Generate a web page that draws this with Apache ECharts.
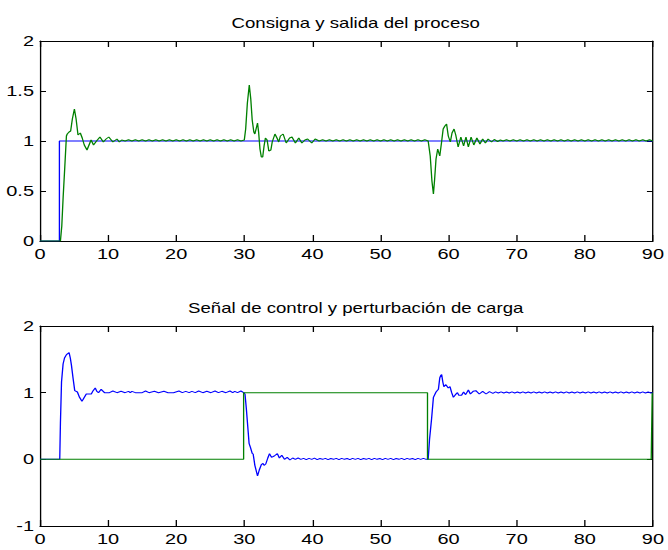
<!DOCTYPE html>
<html>
<head>
<meta charset="utf-8">
<script src="https://cdn.jsdelivr.net/npm/echarts@6/dist/echarts.min.js"></script>
<style>
  html, body { margin: 0; padding: 0; background: #fff; overflow: hidden; }
  /* The figure is drawn on a narrower canvas and widened, giving the wide glyphs of the printed figure */
  #chart { width: 502px; height: 550px; transform: scaleX(1.3307); transform-origin: 0 0; }
</style>
</head>
<body>
<div id="chart"></div>
<script>
// Time axis ticks (seconds)
const timeTicks = [0, 10, 20, 30, 40, 50, 60, 70, 80, 90];

// Top plot: setpoint and process output, [t, value]
const setpoint = [[0, 0], [2.85, 0], [2.85, 1], [90, 1]];

const processOutput = [
  [0, 0], [3.0, 0], [3.2, 0.15], [3.4, 0.44], [3.64, 0.74], [3.88, 1.05], [4.0, 1.07], [4.27, 1.09],
  [4.5, 1.1], [4.75, 1.22], [5.05, 1.32], [5.3, 1.22], [5.58, 1.06], [5.92, 1.08], [6.2, 1.03],
  [6.5, 0.96], [6.9, 0.91], [7.2, 0.96], [7.5, 1.01], [7.86, 0.96], [8.3, 1.0], [8.8, 1.04],
  [9.3, 0.99], [9.7, 1.02], [10.1, 1.04], [10.7, 0.99], [11.3, 1.02], [11.65, 0.99], [12.0, 1.01],
  [12.5, 1.0], [13.0, 1.013], [13.5, 1.0], [14.0, 1.013], [14.5, 1.0], [15.0, 1.013], [15.5, 1.0],
  [16.0, 1.013], [16.5, 1.0], [17.0, 1.013], [17.5, 1.0], [18.0, 1.013], [18.5, 1.0], [19.0, 1.013],
  [19.5, 1.0], [20.0, 1.013], [20.5, 1.0], [21.0, 1.013], [21.5, 1.0], [22.0, 1.013], [22.5, 1.0],
  [23.0, 1.013], [23.5, 1.0], [24.0, 1.013], [24.5, 1.0], [25.0, 1.013], [25.5, 1.0], [26.0, 1.013],
  [26.5, 1.0], [27.0, 1.013], [27.5, 1.0], [28.0, 1.013], [28.5, 1.0], [29.0, 1.013], [29.5, 1.0],
  [30.0, 1.01], [30.2, 1.12], [30.45, 1.38], [30.73, 1.56], [30.95, 1.42], [31.16, 1.21], [31.4, 1.09],
  [31.55, 1.07], [31.94, 1.18], [32.1, 1.09], [32.3, 0.92], [32.5, 0.84], [32.7, 0.84], [32.9, 0.95],
  [33.1, 1.03], [33.35, 1.01], [33.6, 0.9], [33.9, 0.91], [34.1, 0.99], [34.5, 1.07], [34.8, 1.03],
  [35.05, 0.99], [35.3, 1.05], [35.7, 1.07], [36.15, 0.98], [36.65, 1.03], [37.0, 1.04], [37.5, 0.98],
  [38.0, 1.03], [38.45, 0.98], [38.9, 1.01], [39.3, 1.02], [39.9, 0.98], [40.4, 1.02], [41.0, 1.0],
  [41.5, 1.013], [42.0, 1.0], [42.5, 1.013], [43.0, 1.0], [43.5, 1.013], [44.0, 1.0], [44.5, 1.013],
  [45.0, 1.0], [45.5, 1.013], [46.0, 1.0], [46.5, 1.013], [47.0, 1.0], [47.5, 1.013], [48.0, 1.0],
  [48.5, 1.013], [49.0, 1.0], [49.5, 1.013], [50.0, 1.0], [50.5, 1.013], [51.0, 1.0], [51.5, 1.013],
  [52.0, 1.0], [52.5, 1.013], [53.0, 1.0], [53.5, 1.013], [54.0, 1.0], [54.5, 1.013], [55.0, 1.0],
  [55.5, 1.013], [56.0, 1.0], [56.5, 1.013], [57.0, 1.0],
  [57.3, 0.85], [57.55, 0.6], [57.77, 0.47], [57.95, 0.62], [58.15, 0.82], [58.4, 0.92], [58.7, 0.85],
  [58.95, 0.98], [59.2, 1.12], [59.45, 1.15], [59.7, 1.17], [59.95, 1.05], [60.25, 0.99], [60.5, 1.08],
  [60.8, 1.12], [61.05, 1.06], [61.4, 0.94], [61.8, 1.04], [62.2, 0.95], [62.55, 1.04], [62.9, 0.94],
  [63.3, 1.04], [63.7, 0.96], [64.15, 1.03], [64.6, 0.97], [65.0, 1.02], [65.4, 0.98], [65.8, 1.02],
  [66.3, 0.99], [66.7, 1.015], [67.2, 0.995], [67.6, 1.01], [68.0, 1.0],
  [68.5, 1.013], [69.0, 1.0], [69.5, 1.013], [70.0, 1.0], [70.5, 1.013], [71.0, 1.0], [71.5, 1.013],
  [72.0, 1.0], [72.5, 1.013], [73.0, 1.0], [73.5, 1.013], [74.0, 1.0], [74.5, 1.013], [75.0, 1.0],
  [75.5, 1.013], [76.0, 1.0], [76.5, 1.013], [77.0, 1.0], [77.5, 1.013], [78.0, 1.0], [78.5, 1.013],
  [79.0, 1.0], [79.5, 1.013], [80.0, 1.0], [80.5, 1.013], [81.0, 1.0], [81.5, 1.013], [82.0, 1.0],
  [82.5, 1.013], [83.0, 1.0], [83.5, 1.013], [84.0, 1.0], [84.5, 1.013], [85.0, 1.0], [85.5, 1.013],
  [86.0, 1.0], [86.5, 1.013], [87.0, 1.0], [87.5, 1.013], [88.0, 1.0], [88.5, 1.013], [89.0, 1.0],
  [89.5, 1.013], [90.0, 1.0]
];

// Bottom plot: control signal and load disturbance, [t, value]
const controlSignal = [
  [0, 0], [2.9, 0], [3.0, 0.55], [3.16, 1.16], [3.39, 1.43], [3.6, 1.52], [3.89, 1.57], [4.27, 1.6],
  [4.45, 1.52], [4.62, 1.41], [4.85, 1.22], [5.1, 1.03], [5.49, 1.01], [5.8, 0.93], [6.16, 0.87],
  [6.45, 0.92], [6.8, 0.98], [7.53, 0.98], [7.8, 1.03], [8.11, 1.07], [8.35, 1.02], [8.59, 1.0],
  [8.98, 1.05], [9.47, 1.0], [10.2, 1.0], [10.7, 1.025], [11.3, 1.0], [11.9, 1.02], [12.5, 1.0],
  [13.0, 1.02], [13.25, 1.0], [13.5, 1.02], [14.0, 1.0], [15.0, 1.0], [15.5, 1.025], [16.0, 1.0],
  [16.8, 1.02], [17.4, 1.0], [18.2, 1.02], [18.8, 1.0], [19.6, 1.0], [20.4, 1.025], [20.9, 1.0],
  [21.4, 1.02], [21.9, 1.0], [22.3, 1.02], [22.8, 1.0], [23.3, 1.025], [23.9, 1.0], [24.5, 1.02],
  [25.1, 1.0], [25.7, 1.025], [26.2, 1.0], [26.7, 1.02], [27.3, 1.0], [27.9, 1.025], [28.3, 1.0],
  [28.6, 1.02], [29.0, 1.0], [29.5, 1.025], [29.9, 1.0],
  [30.1, 0.98], [30.3, 0.76], [30.5, 0.5], [30.7, 0.24], [30.9, 0.18], [31.16, 0.09], [31.3, 0.08],
  [31.55, -0.09], [31.94, -0.25], [32.2, -0.16], [32.5, -0.08], [32.75, -0.06], [32.9, -0.09],
  [33.15, -0.07], [33.45, 0.02], [33.7, 0.085], [34.0, 0.03], [34.4, 0.05], [34.85, 0.085],
  [35.15, 0.02], [35.5, 0.06], [35.9, 0.0], [36.3, 0.03], [36.7, -0.01], [37.1, 0.02], [37.5, 0.0],
  [37.9, 0.02], [38.3, 0.0], [38.7, 0.015], [39.1, -0.005], [39.5, 0.015], [39.9, 0.0], [40.3, 0.018],
  [40.7, -0.005], [41.1, 0.012], [41.5, 0.0], [41.9, 0.015], [42.3, -0.005], [42.7, 0.012], [43.1, 0.0],
  [43.5, 0.015], [43.9, -0.005], [44.3, 0.015], [44.7, 0.0], [45.1, 0.012], [45.5, -0.005], [45.9, 0.015],
  [46.3, 0.0], [46.7, 0.015], [47.1, -0.005], [47.5, 0.012], [47.9, 0.0], [48.3, 0.015], [48.7, -0.005],
  [49.1, 0.015], [49.5, 0.0], [49.9, 0.012], [50.3, -0.005], [50.7, 0.015], [51.1, 0.0], [51.5, 0.015],
  [51.9, -0.005], [52.3, 0.012], [52.7, 0.0], [53.1, 0.015], [53.5, -0.005], [53.9, 0.015], [54.3, 0.0],
  [54.7, 0.012], [55.1, -0.005], [55.5, 0.015], [55.9, 0.0], [56.3, 0.015], [56.7, 0.0], [57.0, 0.0],
  [57.2, 0.3], [57.5, 0.61], [57.77, 0.93], [58.15, 1.01], [58.5, 1.05], [58.7, 1.22], [58.85, 1.26],
  [58.98, 1.27], [59.15, 1.16], [59.3, 1.09], [59.6, 1.12], [59.95, 1.07], [60.2, 1.09], [60.45, 1.0],
  [60.7, 0.93], [61.0, 0.97], [61.3, 1.0], [61.5, 0.96], [61.9, 0.96], [62.2, 1.01], [62.5, 0.97],
  [62.9, 1.04], [63.2, 0.98], [63.6, 1.02], [64.0, 1.03], [64.5, 0.98], [65.0, 1.02], [65.5, 0.98],
  [66.0, 1.015], [66.5, 0.99], [66.9, 1.012], [67.3, 0.995], [67.7, 1.012], [68.1, 0.995], [68.5, 1.01],
  [68.9, 0.995], [69.3, 1.012], [69.7, 0.995], [70.1, 1.01], [70.5, 0.995], [70.9, 1.012], [71.3, 0.995],
  [71.7, 1.01], [72.1, 0.995], [72.5, 1.012], [72.9, 0.995], [73.3, 1.01], [73.7, 0.995], [74.1, 1.012],
  [74.5, 0.995], [74.9, 1.01], [75.3, 0.995], [75.7, 1.012], [76.1, 0.995], [76.5, 1.01], [76.9, 0.995],
  [77.3, 1.012], [77.7, 0.995], [78.1, 1.01], [78.5, 0.995], [78.9, 1.012], [79.3, 0.995], [79.7, 1.01],
  [80.1, 0.995], [80.5, 1.012], [80.9, 0.995], [81.3, 1.01], [81.7, 0.995], [82.1, 1.012], [82.5, 0.995],
  [82.9, 1.01], [83.3, 0.995], [83.7, 1.012], [84.1, 0.995], [84.5, 1.01], [84.9, 0.995], [85.3, 1.012],
  [85.7, 0.995], [86.1, 1.01], [86.5, 0.995], [86.9, 1.012], [87.3, 0.995], [87.7, 1.01], [88.1, 0.995],
  [88.5, 1.012], [88.9, 0.995], [89.3, 1.01], [89.7, 0.995], [90.0, 1.0]
];

const loadDisturbance = [[0, 0], [29.9, 0], [29.9, 1], [56.9, 1], [56.9, 0], [89.75, 0], [89.9, 1], [90, 1]];

// Titles and y tick sets
const titles = ['Consigna y salida del proceso', 'Señal de control y perturbación de carga'];
const topYTicks = [0, 0.5, 1, 1.5, 2];
const bottomYTicks = [-1, 0, 1, 2];

const FONT = 'Arial, Liberation Sans, Helvetica, sans-serif';
const BLUE = '#0000ff';
const GREEN = '#008000';

// Plot frame in the narrow drawing space (widened by the CSS transform)
const FRAME = { left: 30.06, right: 7.52 };

function xAxesFor(gridIndex) {
  const base = {
    type: 'value', gridIndex, min: timeTicks[0], max: timeTicks[timeTicks.length - 1],
    interval: timeTicks[1] - timeTicks[0],
    splitLine: { show: false },
    axisLine: { show: true, onZero: false, lineStyle: { color: '#000', width: 1 } },
    axisTick: { show: true, inside: true, length: 6, lineStyle: { color: '#000', width: 1 } }
  };
  return [
    Object.assign({}, base, {
      position: 'bottom',
      axisLabel: { show: true, color: '#000', fontFamily: FONT, fontSize: 15, margin: 5 }
    }),
    Object.assign({}, base, { position: 'top', axisLabel: { show: false } })
  ];
}

function yAxesFor(gridIndex, ticks) {
  const base = {
    type: 'value', gridIndex, min: ticks[0], max: ticks[ticks.length - 1],
    interval: ticks[1] - ticks[0],
    splitLine: { show: false },
    axisLine: { show: true, onZero: false, lineStyle: { color: '#000', width: 1 } },
    axisTick: { show: true, inside: true, length: 4.5, lineStyle: { color: '#000', width: 1 } }
  };
  return [
    Object.assign({}, base, {
      position: 'left',
      axisLabel: { show: true, color: '#000', fontFamily: FONT, fontSize: 15, margin: 4.5 }
    }),
    Object.assign({}, base, { position: 'right', axisLabel: { show: false } })
  ];
}

function lineSeries(name, data, color, xi, yi) {
  return {
    name, type: 'line', data, xAxisIndex: xi, yAxisIndex: yi,
    showSymbol: false, symbol: 'none', smooth: false,
    lineStyle: { color, width: 1 }, itemStyle: { color },
    animation: false, silent: true
  };
}

const chart = echarts.init(document.getElementById('chart'), null, { renderer: 'svg' });
chart.setOption({
  backgroundColor: '#fff',
  animation: false,
  title: [
    { text: titles[0], left: 262.3, top: 11, textAlign: 'center',
      textStyle: { fontFamily: FONT, fontSize: 14, fontWeight: 'normal', color: '#000' } },
    { text: titles[1], left: 262.3, top: 296, textAlign: 'center',
      textStyle: { fontFamily: FONT, fontSize: 14, fontWeight: 'normal', color: '#000' } }
  ],
  grid: [
    { left: FRAME.left, right: FRAME.right, top: 41, height: 200, containLabel: false },
    { left: FRAME.left, right: FRAME.right, top: 326, height: 200, containLabel: false }
  ],
  xAxis: xAxesFor(0).concat(xAxesFor(1)),
  yAxis: yAxesFor(0, topYTicks).concat(yAxesFor(1, bottomYTicks)),
  series: [
    lineSeries('Consigna', setpoint, BLUE, 0, 0),
    lineSeries('Salida', processOutput, GREEN, 0, 0),
    lineSeries('Señal de control', controlSignal, BLUE, 2, 2),
    lineSeries('Perturbación de carga', loadDisturbance, GREEN, 2, 2)
  ]
});
</script>
</body>
</html>
